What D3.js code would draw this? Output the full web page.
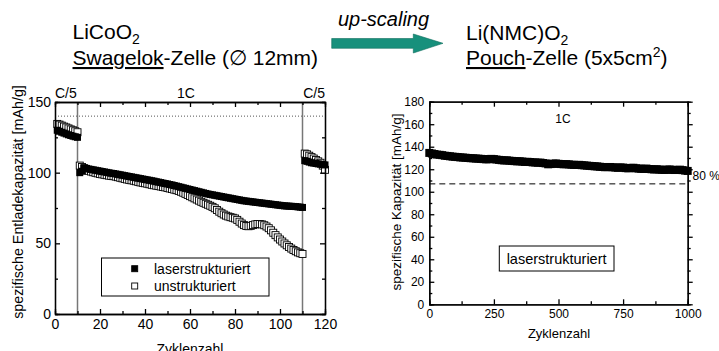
<!DOCTYPE html>
<html lang="de">
<head>
<meta charset="UTF-8">
<title>up-scaling</title>
<script src="https://d3js.org/d3.v7.min.js"></script>
<style>
  body { margin: 0; background: #fff; }
  svg { display: block; font-family: Arial, "Liberation Sans", sans-serif; }
  .axis path, .axis line { stroke: #000; stroke-width: 1.3; }
  .axis text { fill: #000; }
</style>
</head>
<body>
<svg width="719" height="351"></svg>
<script>
// Swagelok cell, cycles 1..120 (C/5: 1-10, 1C: 11-110, C/5: 111-120)
const laserCoin = [
  130, 129.3, 128.6, 128, 127.4, 126.8, 126.3, 125.8, 125.4, 125,
  100, 101, 103.5, 103, 102.6, 102.3, 102, 101.7, 101.4, 101.1,
  100.8, 100.5, 100.2, 99.9, 99.6, 99.4, 99.1, 98.8, 98.5, 98.2,
  97.9, 97.6, 97.3, 97, 96.7, 96.4, 96.1, 95.8, 95.5, 95.2,
  94.9, 94.6, 94.3, 94, 93.6, 93.3, 93, 92.6, 92.3, 92,
  91.6, 91.3, 90.9, 90.5, 90.1, 89.7, 89.3, 88.9, 88.5, 88.1,
  87.7, 87.3, 86.9, 86.5, 86.1, 85.7, 85.3, 84.9, 84.6, 84.3,
  84, 83.7, 83.4, 83.1, 82.8, 82.5, 82.2, 81.9, 81.6, 81.3,
  81, 80.7, 80.4, 80.1, 79.9, 79.7, 79.5, 79.3, 79.1, 78.9,
  78.7, 78.5, 78.3, 78.1, 77.9, 77.7, 77.5, 77.3, 77.1, 76.9,
  76.7, 76.5, 76.4, 76.3, 76.2, 76.1, 76, 75.8, 75.6, 75.4,
  108.5, 108, 107.5, 107, 106.8, 106.5, 106.2, 106, 105.7, 105.5
];
const plainCoin = [
  134.5, 134, 133.3, 132.6, 132, 131.3, 130.6, 130, 129.3, 128.6,
  105, 104, 103, 102, 101.3, 100.8, 100.3, 99.9, 99.5, 99.1,
  98.8, 98.5, 98.2, 97.9, 97.7, 97.5, 97.2, 96.8, 96.4, 96,
  95.6, 95.2, 94.9, 94.6, 94.3, 93.9, 93.5, 93.1, 92.8, 92.5,
  92.2, 91.8, 91.4, 91.1, 90.8, 90.5, 90.2, 89.9, 89.6, 89.2,
  88.8, 88.4, 88, 87.6, 87.1, 86.5, 85.8, 85, 84.2, 83.4,
  82.6, 81.8, 81, 80.2, 79.4, 78.7, 78, 77.3, 76.6, 75.8,
  74.8, 73.6, 72.4, 71.3, 70.4, 69.6, 69, 68.5, 68.1, 67.6,
  66.6, 65.3, 64, 62.9, 62.3, 62.1, 62.4, 62.9, 63.4, 63.7,
  63.7, 63.4, 62.8, 61.9, 60.7, 59.2, 57.5, 55.8, 54.2, 52.7,
  51.3, 49.9, 48.6, 47.4, 46.3, 45.3, 44.4, 43.6, 43, 42.5,
  113.5, 113, 112, 111, 110, 109, 108, 107, 105, 102
];

// Pouch cell, every 10th cycle 0..1000
const pouchCycles = d3.range(0, 1001, 10);
const laserPouch = [
  134.5, 134, 133.5, 133, 132.8, 132.5, 132, 131.8, 131.5, 131.2,
  131, 130.8, 130.5, 130.4, 130.2, 130, 129.8, 129.7, 129.5, 129.4,
  129.2, 129, 128.8, 128.9, 129.2, 129, 128.6, 128.3, 128, 127.8,
  127.9, 127.6, 127.4, 127.2, 127, 127.1, 126.8, 126.5, 126.6, 126.4,
  126.1, 126, 125.8, 125.9, 125.5, 125.2, 124.4, 124.6, 125, 125.1,
  124.8, 124.6, 124.4, 124.5, 124.3, 124, 123.9, 123.8, 123.9, 123.6,
  123.4, 123.2, 123, 122.8, 122.6, 122.5, 122.2, 122, 121.8, 121.9,
  122, 121.7, 121.5, 121.3, 121.6, 121.5, 121, 120.8, 121.2, 121.3,
  120.8, 120.6, 120.4, 120.3, 120.6, 120.2, 120, 119.8, 120, 119.7,
  119.5, 119.4, 119.6, 119.8, 119.5, 119.3, 119.4, 119.6, 119.2, 118.8,
  118.5
];
const pouchLimit = 107;          // 80 % line
const coinReference = 140;       // dotted line
const rateSwitch = [10, 110];
const rateLabels = ["C/5", "1C", "C/5"];

const svg = d3.select("svg");

// ---------- header ----------
const head = svg.append("g").style("font-size", "21px");
const t1 = head.append("text").attr("x", 72.5).attr("y", 39);
t1.append("tspan").text("LiCoO");
t1.append("tspan").attr("dy", 5).style("font-size", "14px").text("2");
const t2 = head.append("text").attr("x", 72.5).attr("y", 65);
t2.append("tspan").style("text-decoration", "underline").text("Swagelok");
t2.append("tspan").text("-Zelle (\u2205 12mm)");

const t3 = head.append("text").attr("x", 466).attr("y", 40);
t3.append("tspan").text("Li(NMC)O");
t3.append("tspan").attr("dy", 5).style("font-size", "14px").text("2");
const t4 = head.append("text").attr("x", 466).attr("y", 65);
t4.append("tspan").style("text-decoration", "underline").text("Pouch");
t4.append("tspan").text("-Zelle (5x5cm");
t4.append("tspan").attr("dy", -8).style("font-size", "14px").text("2");
t4.append("tspan").attr("dy", 8).text(")");

svg.append("text")
   .attr("x", 383.5).attr("y", 26)
   .attr("text-anchor", "middle")
   .style("font-size", "20px").style("font-style", "italic")
   .text("up-scaling");

svg.append("path")
   .attr("d", "M331.7,38.5 L413.3,38.5 L413.3,34 L443,43.3 L413.3,53 L413.3,48.3 L331.7,48.3 Z")
   .attr("fill", "#17907c")
   .attr("stroke", "#0f6f5e")
   .attr("stroke-width", 0.6);

// ---------- frame helper ----------
function frame(g, x, y, o) {
  const x0 = x.range()[0], x1 = x.range()[1];
  const y0 = y.range()[0], y1 = y.range()[1];
  const fs = o.fontSize + "px";
  // minor ticks
  g.append("g").attr("class", "axis").attr("transform", `translate(0,${y0})`)
   .call(d3.axisBottom(x).tickValues(o.xMinor).tickSize(-3).tickFormat(""));
  g.append("g").attr("class", "axis").attr("transform", `translate(0,${y1})`)
   .call(d3.axisTop(x).tickValues(o.xMinor).tickSize(-3).tickFormat(""));
  g.append("g").attr("class", "axis").attr("transform", `translate(${x0},0)`)
   .call(d3.axisLeft(y).tickValues(o.yMinor).tickSize(-3).tickFormat(""));
  g.append("g").attr("class", "axis").attr("transform", `translate(${x1},0)`)
   .call(d3.axisRight(y).tickValues(o.yMinor).tickSize(o.rightOut ? 3 : -3).tickFormat(""));
  // major ticks
  g.append("g").attr("class", "axis").attr("transform", `translate(0,${y0})`)
   .call(d3.axisBottom(x).tickValues(o.xMajor).tickFormat(d3.format("d"))
     .tickSizeInner(-5).tickSizeOuter(0).tickPadding(o.xPad))
   .style("font-size", fs);
  g.append("g").attr("class", "axis").attr("transform", `translate(0,${y1})`)
   .call(d3.axisTop(x).tickValues(o.xMajor).tickSizeInner(-5).tickSizeOuter(0).tickFormat(""));
  g.append("g").attr("class", "axis").attr("transform", `translate(${x0},0)`)
   .call(d3.axisLeft(y).tickValues(o.yMajor).tickFormat(d3.format("d"))
     .tickSizeInner(-5).tickSizeOuter(0).tickPadding(o.yPad))
   .style("font-size", fs);
  g.append("g").attr("class", "axis").attr("transform", `translate(${x1},0)`)
   .call(d3.axisRight(y).tickValues(o.yMajor).tickSizeInner(o.rightOut ? 5 : -5).tickSizeOuter(0).tickFormat(""));
  g.selectAll(".axis text").style("font-family", "Arial, 'Liberation Sans', sans-serif");
}

// ---------- left chart ----------
const xL = d3.scaleLinear().domain([0, 120]).range([55, 325]);
const yL = d3.scaleLinear().domain([0, 150]).range([314, 102]);
const left = svg.append("g");

left.append("line")
    .attr("x1", xL(0)).attr("x2", xL(120))
    .attr("y1", yL(coinReference)).attr("y2", yL(coinReference))
    .attr("stroke", "#555").attr("stroke-width", 1).attr("stroke-dasharray", "1,2");

left.selectAll(".switch").data(rateSwitch).enter().append("line")
    .attr("x1", d => xL(d)).attr("x2", d => xL(d))
    .attr("y1", yL(150)).attr("y2", yL(0))
    .attr("stroke", "#777").attr("stroke-width", 1.5);

const sq = 7;
left.selectAll(".open").data(plainCoin).enter().append("rect")
    .attr("x", (d, i) => xL(i + 1) - sq / 2)
    .attr("y", d => yL(d) - sq / 2)
    .attr("width", sq).attr("height", sq)
    .attr("fill", "#fff").attr("stroke", "#000").attr("stroke-width", 0.9);

left.selectAll(".filled").data(laserCoin).enter().append("rect")
    .attr("x", (d, i) => xL(i + 1) - sq / 2)
    .attr("y", d => yL(d) - sq / 2)
    .attr("width", sq).attr("height", sq)
    .attr("fill", "#000");

frame(left, xL, yL, {
  xMajor: d3.range(0, 121, 20), xMinor: d3.range(10, 120, 20),
  yMajor: [0, 50, 100, 150], yMinor: [25, 75, 125],
  fontSize: 14, xPad: 5, yPad: 4
});

left.selectAll(".rate").data(rateLabels).enter().append("text")
    .attr("x", (d, i) => [xL(0), 186, xL(120)][i])
    .attr("y", 98)
    .attr("text-anchor", (d, i) => ["start", "middle", "end"][i])
    .style("font-size", "14px")
    .text(d => d);

left.append("text")
    .attr("transform", "translate(23,202) rotate(-90)")
    .attr("text-anchor", "middle").style("font-size", "14.3px")
    .text("spezifische Entladekapazität [mAh/g]");
left.append("text")
    .attr("x", 190).attr("y", 354)
    .attr("text-anchor", "middle").style("font-size", "14px")
    .text("Zyklenzahl");

// legend
const leg = left.append("g");
leg.append("rect").attr("x", 101.5).attr("y", 258).attr("width", 167.5).attr("height", 38)
   .attr("fill", "#fff").attr("stroke", "#000").attr("stroke-width", 1);
[["laserstrukturiert", "#000"], ["unstrukturiert", "#fff"]].forEach((d, i) => {
  const cy = 268.7 + i * 17.3;
  leg.append("rect").attr("x", 134.7 - 3).attr("y", cy - 3).attr("width", 6).attr("height", 6)
     .attr("fill", d[1]).attr("stroke", "#000").attr("stroke-width", 0.9);
  leg.append("text").attr("x", 154).attr("y", cy + 5).style("font-size", "14px").text(d[0]);
});

// ---------- right chart ----------
const xR = d3.scaleLinear().domain([0, 1000]).range([429.3, 687.7]);
const yR = d3.scaleLinear().domain([0, 180]).range([304.3, 101.7]);
const right = svg.append("g");

right.append("line")
     .attr("x1", xR(0)).attr("x2", xR(1000))
     .attr("y1", yR(pouchLimit)).attr("y2", yR(pouchLimit))
     .attr("stroke", "#000").attr("stroke-width", 1).attr("stroke-dasharray", "6,4");

const sqR = 8;
right.selectAll(".pouch").data(laserPouch).enter().append("rect")
     .attr("x", (d, i) => xR(pouchCycles[i]) - sqR / 2)
     .attr("y", d => yR(d) - sqR / 2)
     .attr("width", sqR).attr("height", sqR)
     .attr("fill", "#000");

frame(right, xR, yR, {
  xMajor: [0, 250, 500, 750, 1000], xMinor: [125, 375, 625, 875],
  yMajor: d3.range(0, 181, 20), yMinor: d3.range(10, 180, 20),
  fontSize: 12, rightOut: true, xPad: 5, yPad: 5
});

right.append("text").attr("x", 563).attr("y", 123)
     .attr("text-anchor", "middle").style("font-size", "12px").text("1C");
right.append("text").attr("x", 692.5).attr("y", yR(pouchLimit) - 4)
     .style("font-size", "12px").text("80 %");

right.append("text")
     .attr("transform", "translate(401,202) rotate(-90)")
     .attr("text-anchor", "middle").style("font-size", "13.5px")
     .text("spezifische Kapazität [mAh/g]");
right.append("text")
     .attr("x", 559).attr("y", 338)
     .attr("text-anchor", "middle").style("font-size", "13px")
     .text("Zyklenzahl");

right.append("rect").attr("x", 499.3).attr("y", 246).attr("width", 114.7).attr("height", 25)
     .attr("fill", "#fff").attr("stroke", "#000").attr("stroke-width", 1);
right.append("text").attr("x", 556.6).attr("y", 263.5)
     .attr("text-anchor", "middle").style("font-size", "14.5px").text("laserstrukturiert");
</script>
</body>
</html>
